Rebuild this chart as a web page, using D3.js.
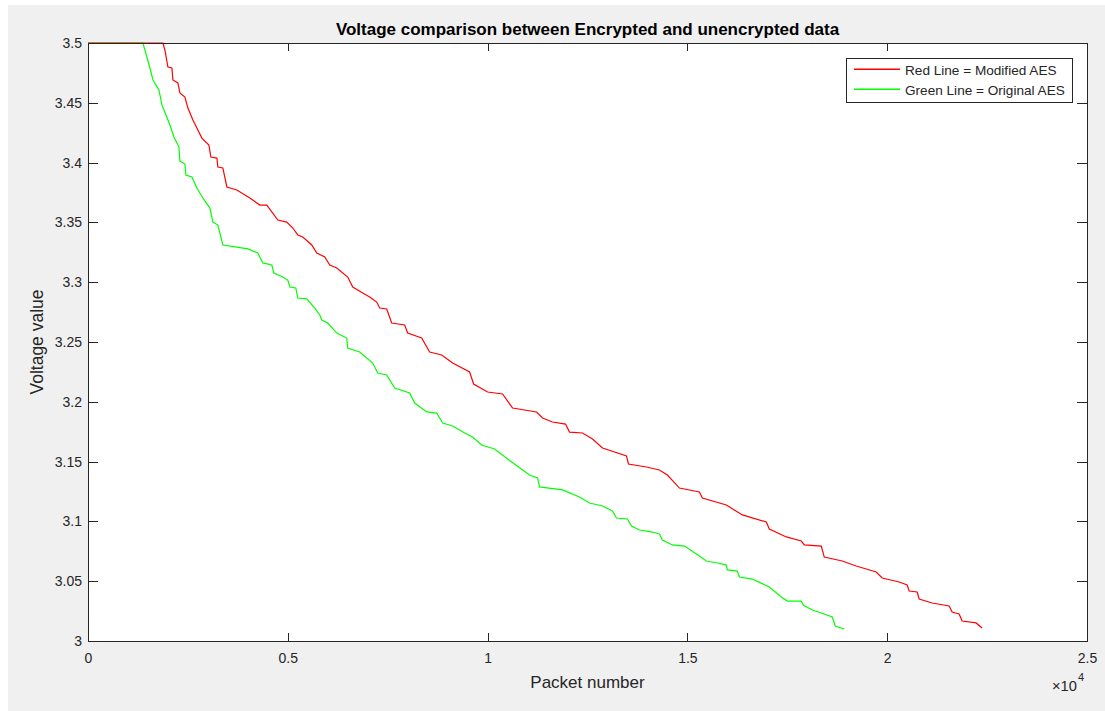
<!DOCTYPE html>
<html>
<head>
<meta charset="utf-8">
<script src="https://cdn.jsdelivr.net/npm/d3@7"></script>
<style>
body { margin: 0; background: #fff; }
text { font-family: Arial, "Liberation Sans", Helvetica, sans-serif; }
</style>
</head>
<body>
<div id="chart"></div>
<script>
// values (packet number, voltage)
var redPackets = [0, 1875, 1925, 2000, 2100, 2125, 2250, 2300, 2425, 2500, 2625, 2725, 2850, 3025, 3075, 3225, 3250, 3375, 3475, 3725, 4050, 4300, 4475, 4750, 4975, 5125, 5250, 5375, 5600, 5725, 5925, 6050, 6225, 6500, 6625, 6875, 7050, 7225, 7300, 7475, 7600, 7925, 8000, 8350, 8550, 8850, 9125, 9550, 9650, 10000, 10375, 10625, 11225, 11375, 11625, 11950, 12050, 12375, 12625, 12875, 13475, 13525, 13975, 14300, 14500, 14800, 15300, 15375, 15975, 16375, 16975, 17050, 17475, 17850, 17925, 18350, 18425, 18875, 19225, 19725, 19875, 20300, 20500, 20550, 20750, 20800, 21125, 21550, 21625, 21800, 21875, 22225, 22375]
var redVoltage = [3.5, 3.5, 3.4941, 3.4799, 3.4791, 3.4691, 3.4666, 3.4582, 3.4548, 3.4456, 3.4356, 3.4289, 3.4205, 3.4147, 3.4047, 3.4038, 3.3963, 3.3955, 3.3796, 3.3771, 3.3704, 3.3645, 3.3645, 3.352, 3.3503, 3.3453, 3.3395, 3.3378, 3.3311, 3.3244, 3.3211, 3.3144, 3.3119, 3.3043, 3.296, 3.291, 3.2876, 3.2834, 3.2784, 3.2776, 3.2659, 3.2642, 3.2575, 3.2533, 3.2416, 3.2391, 3.2324, 3.2249, 3.2149, 3.2082, 3.2065, 3.1948, 3.1915, 3.1865, 3.1831, 3.1814, 3.1747, 3.1739, 3.1689, 3.1614, 3.1547, 3.148, 3.1455, 3.143, 3.1388, 3.1279, 3.1246, 3.1196, 3.1137, 3.1054, 3.0995, 3.0936, 3.087, 3.0836, 3.0803, 3.0794, 3.0702, 3.0669, 3.0627, 3.0577, 3.0527, 3.0493, 3.0468, 3.0418, 3.041, 3.0351, 3.0318, 3.0293, 3.0242, 3.0226, 3.0167, 3.0151, 3.0109]

var greenPackets = [0, 1375, 1550, 1625, 1775, 1850, 1950, 2050, 2150, 2275, 2300, 2425, 2450, 2600, 2725, 2875, 3050, 3125, 3250, 3375, 3725, 4000, 4250, 4375, 4600, 4650, 4875, 5000, 5050, 5200, 5250, 5475, 5675, 5800, 5850, 6000, 6225, 6475, 6500, 6800, 7125, 7250, 7475, 7675, 8050, 8175, 8475, 8725, 8875, 9125, 9425, 9625, 9850, 10175, 10600, 11050, 11250, 11300, 11875, 12300, 12550, 12875, 13125, 13225, 13500, 13600, 13800, 14125, 14300, 14375, 14625, 14925, 15300, 15475, 15750, 15975, 16000, 16250, 16300, 16625, 17050, 17350, 17500, 17850, 17900, 18125, 18350, 18625, 18700, 18925]
var greenVoltage = [3.5, 3.5, 3.4791, 3.4691, 3.4607, 3.4482, 3.4398, 3.4314, 3.4214, 3.413, 3.4013, 3.3988, 3.3896, 3.388, 3.3788, 3.3704, 3.362, 3.3503, 3.3478, 3.3311, 3.3294, 3.3278, 3.3244, 3.3161, 3.3144, 3.3077, 3.3043, 3.3018, 3.296, 3.2952, 3.2868, 3.286, 3.2784, 3.2726, 3.2684, 3.2659, 3.2575, 3.2533, 3.245, 3.2416, 3.2324, 3.2241, 3.2224, 3.2115, 3.2074, 3.199, 3.1915, 3.1906, 3.1823, 3.1798, 3.1739, 3.1706, 3.1639, 3.1605, 3.1497, 3.1388, 3.1363, 3.1288, 3.1263, 3.1204, 3.1154, 3.1129, 3.1087, 3.1028, 3.102, 3.0962, 3.0928, 3.0911, 3.0895, 3.0844, 3.0803, 3.0794, 3.0711, 3.0669, 3.0652, 3.0635, 3.0594, 3.0585, 3.0535, 3.0518, 3.0452, 3.0368, 3.0334, 3.0334, 3.0301, 3.0259, 3.0234, 3.0201, 3.0125, 3.01]

var xTicks = [0, 5000, 10000, 15000, 20000, 25000]
var xTickLabels = ["0", "0.5", "1", "1.5", "2", "2.5"]
var yTicks = [3, 3.05, 3.1, 3.15, 3.2, 3.25, 3.3, 3.35, 3.4, 3.45, 3.5]
var yTickLabels = ["3", "3.05", "3.1", "3.15", "3.2", "3.25", "3.3", "3.35", "3.4", "3.45", "3.5"]
var legendLabels = ["Red Line = Modified AES", "Green Line = Original AES"]
var legendColors = ["#ff0000", "#00ff00"]

var width = 1105,
  height = 711;
var axL = 88, axR = 1087, axT = 43, axB = 641;
var axisColor = "#262626";

var svg = d3.select("#chart").append("svg")
  .attr("width", width)
  .attr("height", height)

// figure background
svg.append("rect")
  .attr("x", 8).attr("y", 5)
  .attr("width", width - 8).attr("height", height - 5)
  .attr("fill", "#f0f0f0")

svg.append("rect")
  .attr("x", axL).attr("y", axT)
  .attr("width", axR - axL).attr("height", axB - axT)
  .attr("fill", "#fff")

var x = d3.scaleLinear().domain([0, 25000]).range([axL, axR])
var y = d3.scaleLinear().domain([3, 3.5]).range([axB, axT])

function styleAxis(g) {
  g.selectAll("path, line").attr("stroke", axisColor).attr("shape-rendering", "crispEdges")
  g.selectAll("text").attr("fill", axisColor).style("font-size", "14px")
}

svg.append("g")
  .attr("transform", "translate(0," + axB + ")")
  .call(d3.axisBottom(x).tickValues(xTicks)
    .tickFormat(function(d, i) { return xTickLabels[i]; })
    .tickSizeInner(-8).tickSizeOuter(0).tickPadding(12))
  .call(styleAxis)
  .call(function(g) { g.select(".domain").remove(); })

svg.append("g")
  .attr("transform", "translate(0," + axT + ")")
  .call(d3.axisTop(x).tickValues(xTicks).tickFormat("")
    .tickSizeInner(-8).tickSizeOuter(0))
  .call(styleAxis)
  .call(function(g) { g.select(".domain").remove(); })

svg.append("g")
  .attr("transform", "translate(" + axL + ",0)")
  .call(d3.axisLeft(y).tickValues(yTicks)
    .tickFormat(function(d, i) { return yTickLabels[i]; })
    .tickSizeInner(-10).tickSizeOuter(0).tickPadding(6))
  .call(styleAxis)
  .call(function(g) { g.select(".domain").remove(); })

svg.append("g")
  .attr("transform", "translate(" + axR + ",0)")
  .call(d3.axisRight(y).tickValues(yTicks).tickFormat("")
    .tickSizeInner(-10).tickSizeOuter(0))
  .call(styleAxis)
  .call(function(g) { g.select(".domain").remove(); })

// lines
var line = d3.line()
  .x(function(d) { return x(d[0]); })
  .y(function(d) { return y(d[1]); })

svg.append("path")
  .datum(d3.zip(greenPackets, greenVoltage))
  .attr("d", line)
  .attr("fill", "none")
  .attr("stroke", legendColors[1])
  .attr("stroke-width", 1.2)

svg.append("path")
  .datum(d3.zip(redPackets, redVoltage))
  .attr("d", line)
  .attr("fill", "none")
  .attr("stroke", legendColors[0])
  .attr("stroke-width", 1.2)

// axes box
svg.append("rect")
  .attr("x", axL + 0.5).attr("y", axT + 0.5)
  .attr("width", axR - axL).attr("height", axB - axT)
  .attr("fill", "none")
  .attr("stroke", axisColor)
  .attr("shape-rendering", "crispEdges")

// title and labels
svg.append("text")
  .attr("x", (axL + axR) / 2).attr("y", 35)
  .attr("text-anchor", "middle")
  .style("font-size", "17px").style("font-weight", "bold")
  .attr("fill", "#000")
  .text("Voltage comparison between Encrypted and unencrypted data")

svg.append("text")
  .attr("x", (axL + axR) / 2).attr("y", 688)
  .attr("text-anchor", "middle")
  .style("font-size", "17px")
  .attr("fill", axisColor)
  .text("Packet number")

svg.append("text")
  .attr("transform", "translate(43," + (axT + axB) / 2 + ") rotate(-90)")
  .attr("text-anchor", "middle")
  .style("font-size", "17.5px")
  .attr("fill", axisColor)
  .text("Voltage value")

var expo = svg.append("text")
  .attr("x", 1052).attr("y", 691)
  .style("font-size", "14.7px")
  .attr("fill", axisColor)
expo.append("tspan").text("\u00d710")
expo.append("tspan").attr("dx", 1).attr("dy", -10).style("font-size", "11px").text("4")

// legend
var legend = svg.append("g")
legend.append("rect")
  .attr("x", 846.5).attr("y", 58.5)
  .attr("width", 226).attr("height", 44)
  .attr("fill", "#fff")
  .attr("stroke", axisColor)
  .attr("shape-rendering", "crispEdges")

legendLabels.forEach(function(label, i) {
  var ly = 69.3 + i * 20
  legend.append("line")
    .attr("x1", 854).attr("x2", 900)
    .attr("y1", ly).attr("y2", ly)
    .style("stroke", legendColors[i])
    .style("stroke-width", 1.5)
  legend.append("text")
    .attr("x", 905).attr("y", ly + 5.5)
    .style("font-size", "13.6px")
    .attr("fill", axisColor)
    .text(label)
})
</script>
</body>
</html>
